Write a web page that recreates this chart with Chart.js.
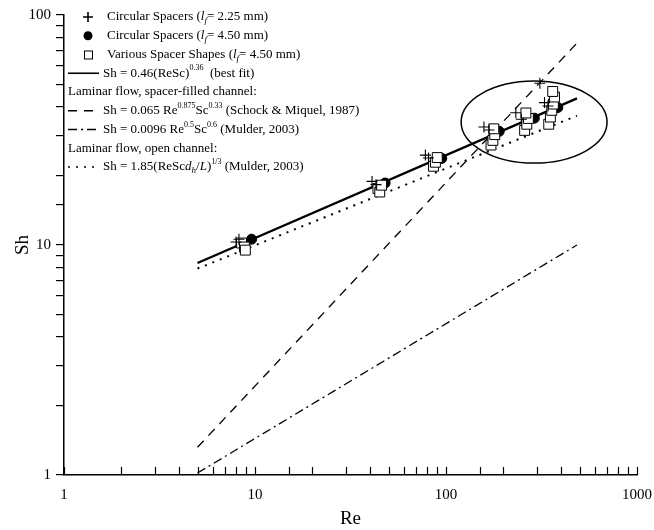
<!DOCTYPE html>
<html>
<head>
<meta charset="utf-8">
<script src="https://cdn.jsdelivr.net/npm/chart.js@4/dist/chart.umd.min.js"></script>
<style>
html, body { margin: 0; padding: 0; background: #fff; }
#wrap { width: 654px; height: 530px; }
</style>
</head>
<body>
<div id="wrap"><canvas id="shChart"></canvas></div>
<script>
var plusRe = [7.96, 8.24, 41, 43, 78, 81, 158, 168, 232, 248, 310, 328, 342];
var plusSh = [10.3, 10.6, 18.9, 18.3, 24.6, 23.9, 32.6, 31.6, 37.6, 35.2, 50.5, 41.6, 40.2];

var dotRe = [9.6, 48, 95, 190, 290, 385];
var dotSh = [10.6, 18.6, 23.8, 31.2, 35.6, 39.6];

var squareRe = [8.5, 8.8, 8.9, 44, 45, 46, 86, 88, 90, 172, 176, 180, 178, 258, 265, 270, 262, 345, 352, 358, 365, 370, 362];
var squareSh = [10.2, 9.8, 9.5, 17.6, 17.0, 18.2, 22.0, 22.9, 24.0, 27.2, 28.5, 30.2, 32.0, 31.5, 33.5, 35.5, 37.5, 33.5, 36.0, 38.5, 41.0, 44.0, 46.5];

// correlation lines (end points)
var lineRe = [5, 485];
var fitSh = [8.35, 43.4];
var schockSh = [1.32, 75.5];
var mulderSh = [1.02, 10.0];
var openSh = [7.9, 36.5];

// circled region
var ringRe = [120, 697];
var ringSh = [22.7, 51.6];

var decades = [1, 10, 100, 1000];
var serif = '"Liberation Serif", "Times New Roman", serif';

function pts(xs, ys) {
	var out = [];
	for (var i = 0; i < xs.length; i++) out.push({x: xs[i], y: ys[i]});
	return out;
}

var fitSet = {label: 'fit', data: pts(lineRe, fitSh), showLine: true, borderColor: '#000', borderWidth: 2.4, pointRadius: 0, order: 9};
var schockSet = {label: 'schock', data: pts(lineRe, schockSh), showLine: true, borderColor: '#000', borderWidth: 1.3, borderDash: [9, 7], pointRadius: 0, order: 9};
var mulderSet = {label: 'mulder', data: pts(lineRe, mulderSh), showLine: true, borderColor: '#000', borderWidth: 1.3, borderDash: [9, 4, 2, 4], pointRadius: 0, order: 9};
var openSet = {label: 'open', data: pts(lineRe, openSh), showLine: true, borderColor: '#000', borderWidth: 2, borderDash: [2, 6], pointRadius: 0, order: 9};

var plusSet = {label: 'lf 2.25', data: pts(plusRe, plusSh), pointStyle: 'cross', pointRadius: 5.5, borderColor: '#000', borderWidth: 1.1, backgroundColor: '#000', order: 1};
var dotSet = {label: 'lf 4.50', data: pts(dotRe, dotSh), pointStyle: 'circle', pointRadius: 5, borderColor: '#000', borderWidth: 1, backgroundColor: '#000', order: 3};
var squareSet = {label: 'shapes', data: pts(squareRe, squareSh), pointStyle: 'rect', pointRadius: 7, borderColor: '#000', borderWidth: 1, backgroundColor: '#fff', order: 2};

// legend rows: [marker, parts]
var legendRows = [
	['plus', [['Circular Spacers (', ''], ['l', 'i'], ['f', 'isub'], ['= 2.25 mm)', '']]],
	['dot', [['Circular Spacers (', ''], ['l', 'i'], ['f', 'isub'], ['= 4.50 mm)', '']]],
	['square', [['Various Spacer Shapes (', ''], ['l', 'i'], ['f', 'isub'], ['= 4.50 mm)', '']]],
	['fit', [['Sh = 0.46(ReSc)', ''], ['0.36', 'sup'], ['  (best fit)', '']]],
	[null, [['Laminar flow, spacer-filled channel:', '']]],
	['schock', [['Sh = 0.065 Re', ''], ['0.875', 'sup'], ['Sc', ''], ['0.33', 'sup'], [' (Schock & Miquel, 1987)', '']]],
	['mulder', [['Sh = 0.0096 Re', ''], ['0.5', 'sup'], ['Sc', ''], ['0.6', 'sup'], [' (Mulder, 2003)', '']]],
	[null, [['Laminar flow, open channel:', '']]],
	['open', [['Sh = 1.85(ReSc', ''], ['d', 'i'], ['h', 'isub'], ['/', ''], ['L', 'i'], [')', ''], ['1/3', 'sup'], [' (Mulder, 2003)', '']]]
];
var lineStyles = {fit: fitSet, schock: schockSet, mulder: mulderSet, open: openSet};

function drawRich(ctx, x, y, parts) {
	ctx.textBaseline = 'middle';
	ctx.textAlign = 'left';
	parts.forEach(function(p) {
		var st = p[1], size = 13, dy = 0, it = '';
		if (st == 'i') it = 'italic ';
		if (st == 'sup') { size = 8; dy = -5; }
		if (st == 'isub') { size = 9; dy = 4; it = 'italic '; }
		ctx.font = it + size + 'px ' + serif;
		ctx.fillText(p[0], x, y + dy);
		x += ctx.measureText(p[0]).width;
	});
}

var extras = {
	id: 'extras',
	afterDatasetsDraw: function(chart) {
		var ctx = chart.ctx, xs = chart.scales.x, ys = chart.scales.y;
		// ellipse around high Re data
		var x1 = xs.getPixelForValue(ringRe[0]), x2 = xs.getPixelForValue(ringRe[1]);
		var y1 = ys.getPixelForValue(ringSh[1]), y2 = ys.getPixelForValue(ringSh[0]);
		ctx.save();
		ctx.strokeStyle = '#000';
		ctx.lineWidth = 1.5;
		ctx.beginPath();
		ctx.ellipse((x1 + x2) / 2, (y1 + y2) / 2, (x2 - x1) / 2, (y2 - y1) / 2, 0, 0, Math.PI * 2);
		ctx.stroke();
		// inward tick marks on the Re axis
		ctx.lineWidth = 1.2;
		xs.ticks.forEach(function(t) {
			var px = Math.round(xs.getPixelForValue(t.value)) + 0.5;
			ctx.beginPath();
			ctx.moveTo(px, xs.top);
			ctx.lineTo(px, xs.top - 8);
			ctx.stroke();
		});
		ctx.restore();
	},
	afterDraw: function(chart) {
		var ctx = chart.ctx;
		ctx.save();
		ctx.fillStyle = '#000';
		ctx.strokeStyle = '#000';
		legendRows.forEach(function(row, i) {
			var y = 17 + i * 18.75, mk = row[0];
			if (mk == 'plus') {
				ctx.lineWidth = 1.6;
				ctx.beginPath();
				ctx.moveTo(83, y); ctx.lineTo(93, y);
				ctx.moveTo(88, y - 5); ctx.lineTo(88, y + 5);
				ctx.stroke();
			} else if (mk == 'dot') {
				ctx.beginPath();
				ctx.arc(88, y, 4.5, 0, Math.PI * 2);
				ctx.fill();
			} else if (mk == 'square') {
				ctx.lineWidth = 1;
				ctx.strokeRect(84.5, y - 3.5, 8, 8);
			} else if (mk) {
				var s = lineStyles[mk];
				ctx.lineWidth = Math.min(s.borderWidth, 1.6);
				ctx.setLineDash(s.borderDash || []);
				ctx.beginPath();
				ctx.moveTo(68, y); ctx.lineTo(99, y);
				ctx.stroke();
				ctx.setLineDash([]);
			}
			var tx = (mk == 'plus' || mk == 'dot' || mk == 'square') ? 107 : (mk ? 103 : 68);
			drawRich(ctx, tx, y, row[1]);
		});
		ctx.restore();
	}
};

var ctx = document.getElementById('shChart');
var shChart = new Chart(ctx, {
	type: 'scatter',
	data: {
		datasets: [fitSet, schockSet, mulderSet, openSet, dotSet, squareSet, plusSet]
	},
	options: {
		responsive: true,
		maintainAspectRatio: false,
		animation: false,
		layout: {padding: {top: 15, right: 17, left: 0, bottom: 0}},
		plugins: {legend: {display: false}, tooltip: {enabled: false}},
		scales: {
			x: {
				type: 'logarithmic', min: 1, max: 1000,
				grid: {drawOnChartArea: false, drawTicks: false},
				border: {color: '#000', width: 1.5},
				ticks: {
					autoSkip: false, maxRotation: 0, padding: 11, color: '#000',
					font: {family: serif, size: 15},
					callback: function(v) { return decades.indexOf(v) >= 0 ? String(v) : ''; }
				},
				title: {display: true, text: 'Re', color: '#000', font: {family: serif, size: 19}, padding: {top: 0, bottom: 0}},
				afterFit: function(s) { s.height = 55; s.paddingLeft = 0; s.paddingRight = 0; }
			},
			y: {
				type: 'logarithmic', min: 1, max: 100,
				grid: {drawOnChartArea: false, drawTicks: true, tickLength: 8, color: '#000', lineWidth: 1.2},
				border: {color: '#000', width: 1.5},
				ticks: {
					autoSkip: false, padding: 5, color: '#000',
					font: {family: serif, size: 15},
					callback: function(v) { return decades.indexOf(v) >= 0 ? String(v) : ''; }
				},
				title: {display: true, text: 'Sh', color: '#000', font: {family: serif, size: 19}, padding: {top: 12, bottom: 0}},
				afterFit: function(s) { s.width = 64; s.paddingTop = 0; s.paddingBottom = 0; }
			}
		}
	},
	plugins: [extras]
});
</script>
</body>
</html>
